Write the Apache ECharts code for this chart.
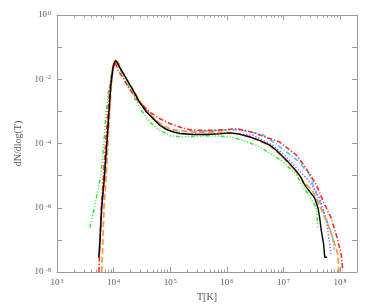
<!DOCTYPE html>
<html><head><meta charset="utf-8">
<script src="https://cdn.jsdelivr.net/npm/echarts@6/dist/echarts.min.js"></script>
<style>html,body{margin:0;padding:0;background:#fff}#c{width:374px;height:307px}</style>
</head><body><div id="c"></div>
<script>
// Values are log10(T) and log10(dN/dlogT)
const blackLogT = [3.74,3.76,3.79,3.84,3.88,3.92,3.95,3.98,4.01,4.04,4.07,4.11,4.23,4.35,4.46,4.58,4.70,4.82,4.93,5.05,5.17,5.40,5.63,5.87,6.05,6.20,6.40,6.58,6.76,6.88,6.99,7.11,7.23,7.32,7.34,7.40,7.46,7.55,7.61,7.64,7.67,7.71,7.73,7.77];
const blackLogN = [-7.55,-7.0,-6.0,-5.0,-4.0,-3.0,-2.2,-1.75,-1.5,-1.42,-1.5,-1.64,-2.0,-2.36,-2.72,-3.02,-3.23,-3.44,-3.56,-3.64,-3.69,-3.72,-3.72,-3.70,-3.67,-3.70,-3.79,-3.90,-4.05,-4.22,-4.41,-4.62,-4.87,-5.08,-5.18,-5.35,-5.49,-5.69,-6.0,-6.3,-6.72,-7.13,-7.54,-7.54];

const orangeLogT = [3.79,3.81,3.83,3.87,3.90,3.93,3.96,3.99,4.02,4.045,4.08,4.12,4.23,4.35,4.46,4.58,4.70,4.82,4.93,5.05,5.17,5.40,5.63,5.87,6.05,6.20,6.40,6.58,6.76,6.99,7.23,7.34,7.52,7.67,7.78,7.87,7.96,7.98];
const orangeLogN = [-8.0,-7.0,-6.0,-5.0,-4.0,-3.0,-2.2,-1.7,-1.45,-1.38,-1.47,-1.65,-1.98,-2.34,-2.68,-2.97,-3.18,-3.38,-3.50,-3.57,-3.61,-3.64,-3.65,-3.65,-3.66,-3.70,-3.80,-3.92,-4.07,-4.42,-4.88,-5.15,-5.49,-6.05,-6.5,-6.92,-7.44,-8.0];

const redLogT = [3.74,3.76,3.78,3.82,3.86,3.90,3.94,3.98,4.02,4.05,4.08,4.17,4.26,4.35,4.43,4.64,4.82,4.99,5.17,5.35,5.52,5.76,5.99,6.17,6.43,6.93,7.23,7.40,7.58,7.70,7.84,7.93,8.02,8.05];
const redLogN = [-8.0,-7.0,-6.0,-5.0,-4.0,-3.0,-2.2,-1.65,-1.43,-1.45,-1.74,-1.95,-2.26,-2.46,-2.67,-3.02,-3.23,-3.38,-3.49,-3.57,-3.59,-3.59,-3.57,-3.54,-3.64,-3.95,-4.36,-4.77,-5.28,-5.79,-6.31,-6.82,-7.44,-7.95];

const greenLogT = [3.58,3.66,3.74,3.78,3.82,3.86,3.90,3.95,3.99,4.03,4.07,4.12,4.23,4.35,4.46,4.64,4.79,5.00,5.17,5.40,5.70,6.05,6.28,6.58,6.81,6.99,7.14,7.23,7.32,7.45,7.58,7.61];
const greenLogN = [-6.62,-6.0,-5.3,-4.9,-4.15,-3.2,-2.5,-2.0,-1.6,-1.43,-1.5,-1.72,-2.1,-2.5,-2.9,-3.33,-3.56,-3.76,-3.79,-3.78,-3.76,-3.79,-3.90,-4.10,-4.36,-4.56,-4.82,-4.97,-5.28,-5.6,-6.0,-6.62];

const cyanLogT = [3.74,3.79,3.88,3.95,4.01,4.04,4.11,4.23,4.46,4.70,4.93,5.17,5.50,6.05,6.28,6.63,6.86,7.09,7.27,7.46,7.61,7.73,7.87,7.90];
const cyanLogN = [-7.55,-6.0,-4.0,-2.2,-1.5,-1.42,-1.64,-2.0,-2.72,-3.23,-3.54,-3.62,-3.62,-3.57,-3.59,-3.72,-4.0,-4.31,-4.56,-4.97,-5.69,-6.2,-6.92,-7.3];

const purpleLogT = [3.74,3.79,3.88,3.95,4.01,4.04,4.11,4.23,4.46,4.70,4.93,5.17,5.63,6.05,6.46,6.81,7.05,7.25,7.46,7.64,7.76,7.81,7.84];
const purpleLogN = [-7.55,-6.0,-4.0,-2.2,-1.5,-1.42,-1.64,-2.0,-2.72,-3.23,-3.56,-3.69,-3.72,-3.67,-3.74,-4.05,-4.41,-4.8,-5.18,-5.69,-6.41,-7.03,-7.44];

const xMajor = [3,4,5,6,7,8];
const yMajor = [-8,-7,-6,-5,-4,-3,-2,-1,0];
const yLabeled = [-8,-6,-4,-2,0];

const xMinor = [];
for (let n = 3; n <= 8; n++) for (let k = 2; k <= 9; k++) {
  const v = n + Math.log10(k);
  if (v < 8.3) xMinor.push(v);
}

const FONT = '"Liberation Serif", "DejaVu Serif", serif';
const TXT = '#555';
const AX = '#9a9a9a';
const rich = {
  b: {fontFamily: FONT, fontSize: 9, color: TXT},
  s: {fontFamily: FONT, fontSize: 6, color: TXT, verticalAlign: 'top', padding: [0,0,0,1]}
};
const powFmt = v => '{b|10}{s|' + (v < 0 ? '\u2212' + Math.abs(Math.round(v)) : Math.round(v)) + '}';

function xAx(pos, ticks, len, withLine, labels) {
  return {
    type: 'value', position: pos, min: 3, max: 8.3,
    axisLine: {show: withLine, onZero: false, lineStyle: {color: AX, width: 1}},
    axisTick: {show: true, inside: true, length: len, customValues: ticks, lineStyle: {color: AX, width: 1}},
    axisLabel: labels ? {show: true, customValues: xMajor, formatter: powFmt, rich: rich, margin: 6} : {show: false},
    splitLine: {show: false},
    name: labels ? 'T[K]' : '', nameLocation: 'middle', nameGap: 20,
    nameTextStyle: {fontFamily: FONT, fontSize: 10, color: TXT}
  };
}
function yAx(pos, labels) {
  return {
    type: 'value', position: pos, min: -8, max: 0,
    axisLine: {show: true, onZero: false, lineStyle: {color: AX, width: 1}},
    axisTick: {show: true, inside: true, length: 5, customValues: yMajor, lineStyle: {color: AX, width: 1}},
    axisLabel: labels ? {show: true, customValues: yLabeled, formatter: powFmt, rich: rich, margin: 6} : {show: false},
    splitLine: {show: false},
    name: labels ? 'dN/dlog(T)' : '', nameLocation: 'middle', nameGap: 31,
    nameTextStyle: {fontFamily: FONT, fontSize: 10, color: TXT}
  };
}
const zip = (a, b) => a.map((v, i) => [v, b[i]]);
function line(name, xs, ys, color, type, width) {
  return {name, type: 'line', xAxisIndex: 0, yAxisIndex: 0, data: zip(xs, ys), showSymbol: false, symbol: 'none',
    lineStyle: {color, type, width}, itemStyle: {color}, z: 2};
}

const chart = echarts.init(document.getElementById('c'), null, {renderer: 'canvas'});
chart.setOption({
  animation: false,
  backgroundColor: '#fff',
  grid: {left: 57, top: 15, width: 300, height: 260, containLabel: false},
  xAxis: [xAx('bottom', xMajor, 5, true, true), xAx('bottom', xMinor, 2.5, false, false), xAx('top', xMajor, 5, true, false), xAx('top', xMinor, 2.5, false, false)],
  yAxis: [yAx('left', true), yAx('right', false)],
  series: [
    line('cyan', cyanLogT, cyanLogN, '#3cc8ff', [5,2,1,2], 1.6),
    line('purple', purpleLogT, purpleLogN, '#8a5cff', [1.2,2], 1.6),
    line('green', greenLogT, greenLogN, '#2fe82f', [4,2,1,2,1,2,1,2], 1.5),
    line('orange', orangeLogT, orangeLogN, '#ff9a3c', [6,3], 1.8),
    line('red', redLogT, redLogN, '#ff2a2a', [5,2,1.2,2], 1.6),
    line('black', blackLogT, blackLogN, '#000000', 'solid', 1.4)
  ]
});
</script></body></html>
